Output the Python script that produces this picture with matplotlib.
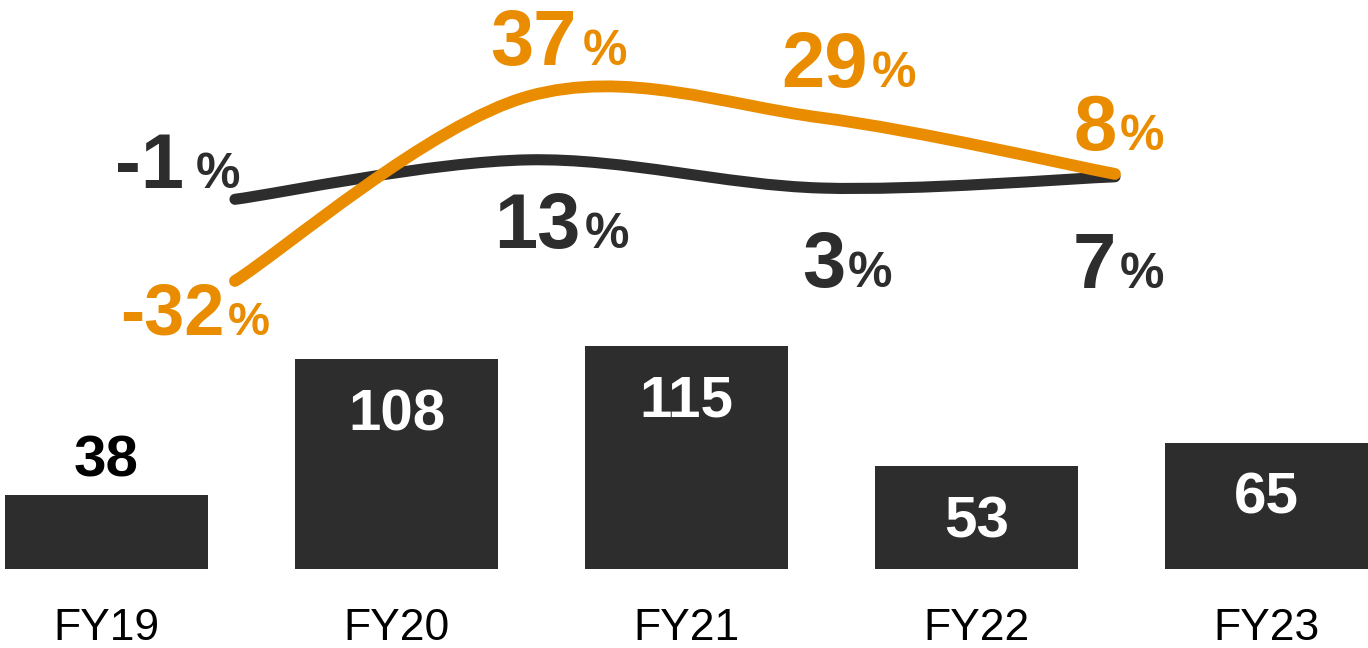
import matplotlib
matplotlib.use('Agg')
import matplotlib.pyplot as plt
from matplotlib.path import Path
from matplotlib.patches import PathPatch

# data
years = ['FY19', 'FY20', 'FY21', 'FY22', 'FY23']
revenue = [38, 108, 115, 53, 65]
growth_dark = [-1, 13, 3, 7]
growth_orange = [-32, 37, 29, 8]

DARK = '#2d2d2d'
ORANGE = '#ea8c00'
DPI = 100
PX = 72.0 / DPI  # one pixel in points

# label layout: (dx px, dy px below point, number size, % size, gap px)
dark_lab = [(-85, -11, 56, 36, 11), (9, 88, 56, 36, 4), (2, 99, 56, 36, 3), (-21, 111, 56, 36, 4)]
orange_lab = [(-63, 54, 52, 34, 4), (5, -31, 56, 36, 6), (3, -31, 56, 36, 4), (-20, -24, 56, 36, 3)]

plt.rcParams['font.family'] = ['Liberation Sans', 'DejaVu Sans']

fig = plt.figure(figsize=(13.68, 6.48), dpi=DPI)

# bars
ax = fig.add_axes([0, 0, 1, 1])
ax.set_axis_off()
ax.bar(range(len(years)), revenue, width=0.7, color=DARK)
ax.set_xlim(-0.367, 4.35)
ax.set_ylim(-40.66, 292.85)
for i, (lab, v) in enumerate(zip(years, revenue)):
    ax.annotate(lab, (i, 0), xytext=(0, -71 * PX), textcoords='offset points',
                ha='center', va='baseline', fontsize=32, color='black')
    if v < 45:
        ax.annotate(str(v), (i, v), xytext=(0, 19 * PX), textcoords='offset points',
                    ha='center', va='baseline', fontsize=42, weight='bold', color='black')
    else:
        ax.annotate(str(v), (i, v), xytext=(0, -71 * PX), textcoords='offset points',
                    ha='center', va='baseline', fontsize=42, weight='bold', color='white')


def smooth_path(xs, ys):
    # catmull-rom as cubic bezier segments
    pts = list(zip(xs, ys))
    n = len(pts)
    verts = [pts[0]]
    codes = [Path.MOVETO]
    for i in range(n - 1):
        p0 = pts[max(i - 1, 0)]
        p1 = pts[i]
        p2 = pts[i + 1]
        p3 = pts[min(i + 2, n - 1)]
        c1 = (p1[0] + (p2[0] - p0[0]) / 6, p1[1] + (p2[1] - p0[1]) / 6)
        c2 = (p2[0] - (p3[0] - p1[0]) / 6, p2[1] - (p3[1] - p1[1]) / 6)
        verts += [c1, c2, p2]
        codes += [Path.CURVE4] * 3
    return Path(verts, codes)


def draw_line(name, vals, ylim, color, lw, z, labs):
    a = fig.add_axes([0, 0, 1, 1], label=name)
    a.set_axis_off()
    a.set_xlim(-0.801, 3.8625)
    a.set_ylim(*ylim)
    a.set_zorder(z)
    xs = list(range(len(vals)))
    a.add_patch(PathPatch(smooth_path(xs, vals), fill=False, edgecolor=color,
                          lw=lw, capstyle='round', joinstyle='round'))
    for i, v in enumerate(vals):
        dx, dy, s1, s2, gap = labs[i]
        t = a.annotate(str(v), (i, v), xytext=(dx * PX, -dy * PX), textcoords='offset points',
                       ha='center', va='baseline', fontsize=s1, weight='bold', color=color)
        a.annotate('%', (1, v), xycoords=(t, a.transData), xytext=(gap * PX, -dy * PX),
                   textcoords='offset points', ha='left', va='baseline',
                   fontsize=s2, weight='bold', color=color)


draw_line('dark', growth_dark, (-160.1, 69.68), DARK, 8, 2, dark_lab)
draw_line('orange', growth_orange, (-169.15, 73.0), ORANGE, 8.5, 3, orange_lab)

fig.savefig('out.png', dpi=DPI)
